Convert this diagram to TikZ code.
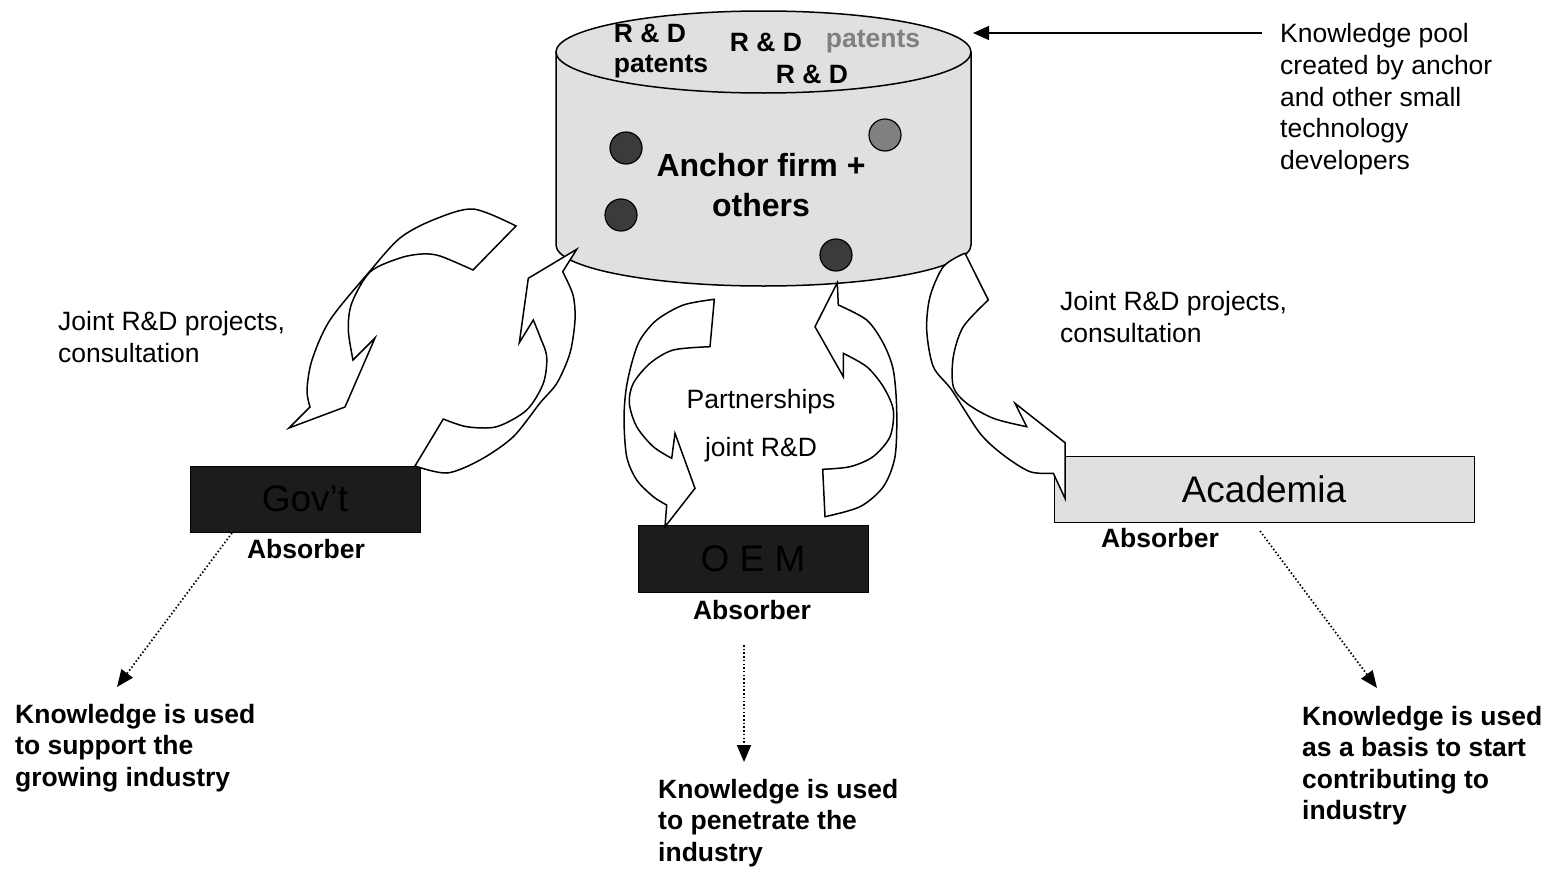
\documentclass[tikz,border=0pt]{standalone}
\usepackage{fontspec}
\setmainfont{Liberation Sans}
\usetikzlibrary{arrows.meta}
\definecolor{cylgray}{gray}{0.88}
\definecolor{boxdark}{gray}{0.11}
\definecolor{dotgray}{gray}{0.23}
\definecolor{dotlight}{gray}{0.5}
\newcommand\txtA{\fontsize{26.5}{31.8}\selectfont}
\newcommand\txtB{\bfseries\fontsize{26.5}{31.5}\selectfont}
\newcommand\txtC{\fontsize{37}{44}\selectfont}
\newcommand\txtD{\bfseries\fontsize{32}{40}\selectfont}
\begin{document}
\begin{tikzpicture}[x=1pt,y=-1pt,
  curv/.style={draw=black, fill=white, line width=1.5pt, line join=miter},
  darkbox/.style={draw=black, line width=1pt, fill=boxdark, text=black, inner sep=0, font=\txtC},
  lightbox/.style={draw=black, line width=1pt, fill=cylgray, text=black, inner sep=0, font=\txtC},
  plain/.style={inner sep=0, align=left, anchor=north west, font=\txtA},
  boldtxt/.style={inner sep=0, align=left, anchor=north west, font=\txtB},
  cyltxt/.style={inner sep=0, font=\txtB},
  dotarr/.style={line width=1.7pt, dash pattern=on 1.5pt off 2.2pt, -{Triangle[length=17pt,width=14pt]}},
  ptr/.style={line width=1.3pt, -{Triangle[length=16pt,width=14pt]}}
]
\useasboundingbox (0,0) rectangle (1552,870);

% cylinder
\fill[cylgray] (556,52) -- (556,245) .. controls (556,267.6) and (648.9,286) .. (763.5,286)
  .. controls (878.1,286) and (971,267.6) .. (971,245) -- (971,52) -- cycle;
\draw[line width=1.5pt] (556,52) -- (556,245) .. controls (556,267.6) and (648.9,286) .. (763.5,286)
  .. controls (878.1,286) and (971,267.6) .. (971,245) -- (971,52);
\draw[line width=1.5pt, fill=cylgray] (763.5,52) ellipse [x radius=207.5, y radius=41];

% dots
\filldraw[fill=dotgray, draw=black, line width=1.2pt] (626,148) circle (16);
\filldraw[fill=dotgray, draw=black, line width=1.2pt] (621,215) circle (16);
\filldraw[fill=dotgray, draw=black, line width=1.2pt] (836,255) circle (16);
\filldraw[fill=dotlight, draw=black, line width=1.2pt] (885,135) circle (16);

% cylinder texts
\node[cyltxt] (rd1) at (650,33) {R \& D};
\node[cyltxt] (pt1) at (661,67) {patents};
\node[cyltxt] (rd2) at (766,42) {R \& D};
\node[cyltxt, text=black!50] (pt2) at (873,42) {patents};
\node[cyltxt] (rd3) at (812,74) {R \& D};
\node[inner sep=0, font=\txtD, align=center] (anchor) at (761,185) {Anchor firm +\\others};

% boxes
\node[darkbox, minimum width=230, minimum height=66] (gov) at (305,499) {Gov’t};
\node[darkbox, minimum width=230, minimum height=67] (oem) at (753,558.5) {O E M};
\node[lightbox, minimum width=420, minimum height=66] (acad) at (1264,489) {Academia};

% curved arrows
\draw[curv] (473,270) -- plot[smooth] coordinates {(516,226) (473,209) (433,220) (400,238) (370,271) (330,320) (312,360) (307,390) (310,407)}
  -- (289,428) -- (345,407) -- (375,338) -- (353,360)
  -- plot[smooth] coordinates {(353,360) (348.3,330) (351.7,303.3) (370,272) (400,258) (422,254) (440,256) (473,270)} -- cycle;
\draw[curv] (576.7,249.3) -- (562.7,271.7)
  -- plot[smooth] coordinates {(562.7,271.7) (573,295) (575,320) (570,353) (557,383) (540,403) (513,437) (480,460) (447,473) (415,466)}
  -- (443.3,419)
  -- plot[smooth] coordinates {(443.3,419) (466.7,426.7) (496.7,426.7) (526.7,410) (543.3,383.3) (546.7,356.7) (540,336.7) (533.3,320)}
  -- (519.3,342.7) -- (528.3,278.3) -- cycle;
\draw[curv] (714.3,299.3)
  -- plot[smooth] coordinates {(714.3,299.3) (683.3,305) (656.7,320) (640,340) (631.7,363.3) (626,390) (624,420) (626.7,456.7) (636.7,480) (653.3,496.7) (666.7,505)}
  -- (665,526.7) -- (695,488.3) -- (675,433.3) -- (671.7,458.3)
  -- plot[smooth] coordinates {(671.7,458.3) (653.3,446.7) (636.7,426.7) (629.3,403.3) (633.3,383.3) (650,363.3) (673.3,350) (710,346.7)} -- cycle;
\draw[curv] (837.3,282.7) -- (838.3,305)
  -- plot[smooth] coordinates {(838.3,305) (866.7,320) (883.3,343.3) (893.3,370) (896.7,410) (895,456.7) (883.3,486.7) (860,506.7) (825,516.7)}
  -- (822.7,469.3)
  -- plot[smooth] coordinates {(822.7,469.3) (850,466.7) (873,456.7) (890,436.7) (893.3,410) (883.3,386.7) (866.7,366.7) (843.3,353.3)}
  -- (843.3,376.7) -- (815,326.7) -- cycle;
\draw[curv] (965,253.3) -- (988.3,300)
  -- plot[smooth] coordinates {(988.3,300) (963.3,326.7) (953.3,356.7) (953.3,386.7) (966.7,403.3) (993.3,418.3) (1026.7,426.7)}
  -- (1015,403.3) -- (1065,442.7) -- (1065,498.3) -- (1053.3,473.3)
  -- plot[smooth] coordinates {(1053.3,473.3) (1030,471.7) (1003.3,455) (980,433.3) (951.7,390) (933.3,366.7) (926.7,330) (930,296.7) (943.3,266.7) (963,254)} -- cycle;

% labels
\node[plain] (kpool) at (1280,23) {Knowledge pool\\created by anchor\\and other small\\technology\\developers};
\node[plain] (jl) at (58,311) {Joint R\&D projects,\\consultation};
\node[plain] (jr) at (1060,291) {Joint R\&D projects,\\consultation};
\node[inner sep=0, font=\fontsize{26.5}{48}\selectfont, align=center] (part) at (761,426) {Partnerships\\joint R\&D};

\node[cyltxt] (ab1) at (306,549) {Absorber};
\node[cyltxt] (ab2) at (752,610) {Absorber};
\node[cyltxt] (ab3) at (1160,538) {Absorber};

\node[boldtxt] (kl) at (15,704) {Knowledge is used\\to support the\\growing industry};
\node[boldtxt] (km) at (658,779) {Knowledge is used\\to penetrate the\\industry};
\node[boldtxt] (kr) at (1302,706) {Knowledge is used\\as a basis to start\\contributing to\\industry};

% pointer and dotted arrows
\coordinate (kp1) at (1262,33);
\coordinate (kp2) at (973,33);
\draw[ptr] (kp1) -- (kp2);
\coordinate (g1) at (232,533);
\coordinate (g2) at (117,687);
\draw[dotarr] (g1) -- (g2);
\coordinate (o1) at (744,645);
\coordinate (o2) at (744,762);
\draw[dotarr] (o1) -- (o2);
\coordinate (a1) at (1260,531);
\coordinate (a2) at (1377,688);
\draw[dotarr] (a1) -- (a2);
\end{tikzpicture}
\end{document}
